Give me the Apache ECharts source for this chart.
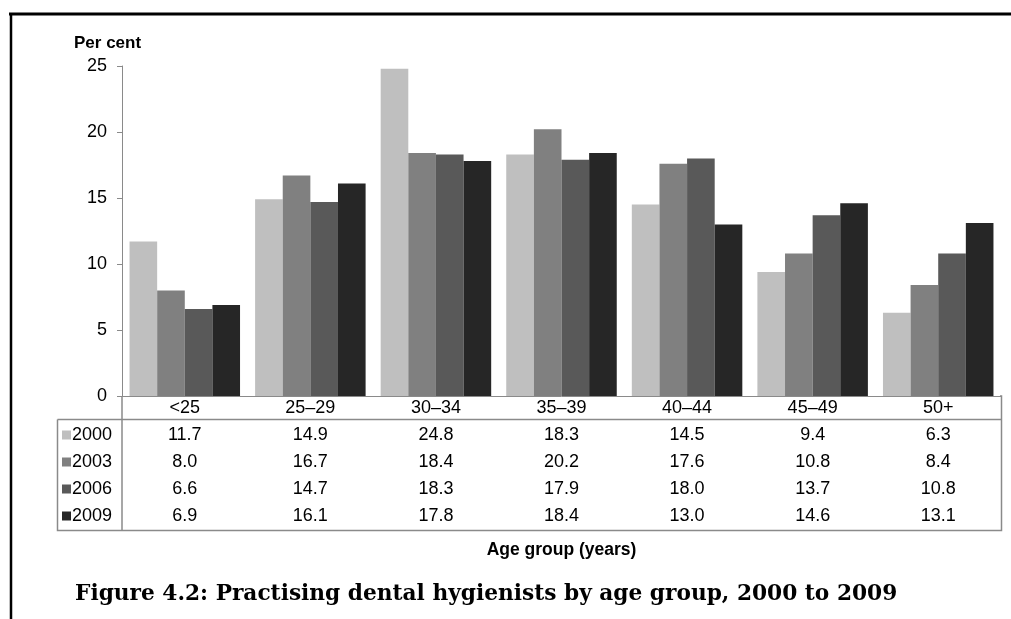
<!DOCTYPE html>
<html>
<head>
<meta charset="utf-8">
<script src="https://cdn.jsdelivr.net/npm/echarts@6/dist/echarts.min.js"></script>
<style>html,body{margin:0;padding:0;background:#fff}#c{width:1011px;height:619px}</style>
</head>
<body>
<div id="c"></div>
<script>
const categories = ['<25', '25–29', '30–34', '35–39', '40–44', '45–49', '50+'];
const seriesNames = ['2000', '2003', '2006', '2009'];
const v2000 = [11.7, 14.9, 24.8, 18.3, 14.5, 9.4, 6.3];
const v2003 = [8.0, 16.7, 18.4, 20.2, 17.6, 10.8, 8.4];
const v2006 = [6.6, 14.7, 18.3, 17.9, 18.0, 13.7, 10.8];
const v2009 = [6.9, 16.1, 17.8, 18.4, 13.0, 14.6, 13.1];
const yTicks = [0, 5, 10, 15, 20, 25];

const allValues = [v2000, v2003, v2006, v2009];
const colors = ['#bfbfbf', '#808080', '#595959', '#262626'];
const font = 'Arial, "Liberation Sans", sans-serif';
const gridColor = '#8a8a8a';
const fs = 18;

const chart = echarts.init(document.getElementById('c'), null, {renderer: 'canvas'});

const xAxes = [{
  type: 'category', data: categories, gridIndex: 0, position: 'bottom',
  axisLine: {show: true, lineStyle: {color: gridColor, width: 1}},
  axisTick: {show: false},
  axisLabel: {color: '#000', fontSize: fs, fontFamily: font, margin: 3, interval: 0},
  name: 'Age group (years)', nameLocation: 'middle', nameGap: 145,
  nameTextStyle: {color: '#000', fontSize: 17.5, fontWeight: 'bold', fontFamily: font}
}];
allValues.forEach((vals, i) => {
  xAxes.push({
    type: 'category', data: categories, gridIndex: 0, position: 'bottom',
    offset: 27 * (i + 1),
    axisLine: {show: false}, axisTick: {show: false},
    axisLabel: {color: '#000', fontSize: fs, fontFamily: font, margin: 3, interval: 0,
      formatter: (val, idx) => vals[idx].toFixed(1)}
  });
});

const series = allValues.map((vals, i) => ({
  name: seriesNames[i], type: 'bar', data: vals, xAxisIndex: 0,
  barGap: '0%', barCategoryGap: '12%',
  itemStyle: {color: colors[i]}
}));

const L = 57.5, R = 1001.5, T = 396, H1 = 419.5, B = 530.5, YA = 122;
chart.setOption({
  animation: false,
  backgroundColor: '#fff',
  grid: {left: 122, right: 10, top: 66, bottom: 223, containLabel: false},
  title: [
    {text: 'Per cent', left: 69, top: 30,
     textStyle: {fontSize: 17, fontWeight: 'bold', color: '#000', fontFamily: font}},
    {text: 'Figure 4.2: Practising dental hygienists by age group, 2000 to 2009', left: 70, top: 578,
     textStyle: {fontSize: 21.7, fontWeight: 'bold', color: '#000', fontFamily: '"DejaVu Serif", serif'}}
  ],
  legend: {
    data: seriesNames, orient: 'vertical', left: 62, top: 426, padding: 0,
    itemWidth: 9, itemHeight: 9, itemGap: 9, icon: 'rect', selectedMode: false,
    textStyle: {color: '#000', fontSize: fs, fontFamily: font, padding: [0, 0, 0, -4]}
  },
  xAxis: xAxes,
  yAxis: {
    type: 'value', min: yTicks[0], max: yTicks[yTicks.length - 1], interval: 5,
    axisLine: {show: true, lineStyle: {color: gridColor}},
    axisTick: {show: true, length: 5, lineStyle: {color: gridColor}},
    splitLine: {show: false},
    axisLabel: {color: '#000', fontSize: fs, fontFamily: font, margin: 15}
  },
  series: series,
  graphic: [
    {type: 'polyline', shape: {points: [[L, H1], [L, B], [R, B], [R, T], [1000, T]]},
     style: {stroke: gridColor, lineWidth: 1.5, fill: null}, silent: true},
    {type: 'line', shape: {x1: L, y1: H1, x2: R, y2: H1}, style: {stroke: gridColor, lineWidth: 1.5}},
    {type: 'line', shape: {x1: YA, y1: T, x2: YA, y2: B}, style: {stroke: gridColor, lineWidth: 1.5}},
    {type: 'line', shape: {x1: 9, y1: 14, x2: 1011, y2: 14}, style: {stroke: '#000', lineWidth: 3}},
    {type: 'line', shape: {x1: 11, y1: 13, x2: 11, y2: 619}, style: {stroke: '#000', lineWidth: 2.5}}
  ]
});
</script>
</body>
</html>
